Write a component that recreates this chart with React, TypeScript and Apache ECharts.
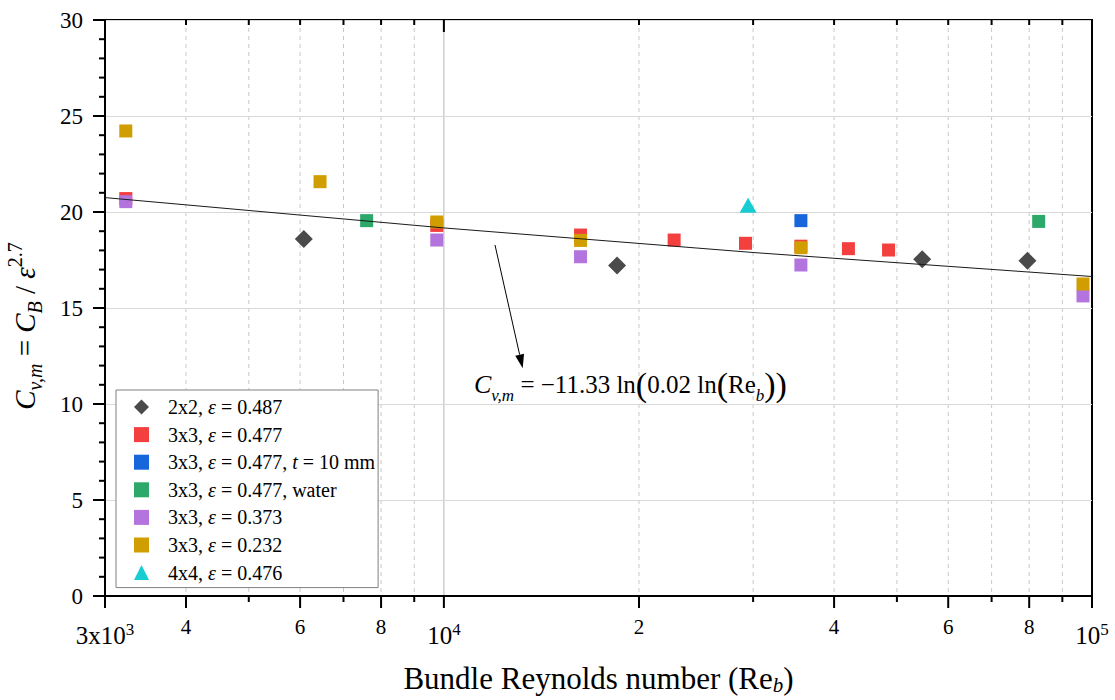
import React, { useEffect, useRef } from "react";
import * as echarts from "echarts";

const SERIF = "'Liberation Serif', 'Times New Roman', serif";

// ---- series definitions ----
const seriesNames = [
  "2x2, ε = 0.487",
  "3x3, ε = 0.477",
  "3x3, ε = 0.477, t = 10 mm",
  "3x3, ε = 0.477, water",
  "3x3, ε = 0.373",
  "3x3, ε = 0.232",
  "4x4, ε = 0.476",
];
const seriesLegendRich = [
  "{sp| }2x2, {i|ε} = 0.487",
  "{sp| }3x3, {i|ε} = 0.477",
  "{sp| }3x3, {i|ε} = 0.477, {i|t} = 10 mm",
  "{sp| }3x3, {i|ε} = 0.477, water",
  "{sp| }3x3, {i|ε} = 0.373",
  "{sp| }3x3, {i|ε} = 0.232",
  "{sp| }4x4, {i|ε} = 0.476",
];
const seriesColors = ["#4a4a4a", "#f43f3f", "#1766dc", "#2ca86a", "#b374de", "#d09e00", "#17cdd1"];
const seriesSymbols = ["diamond", "rect", "rect", "rect", "rect", "rect", "triangle"];

// ---- data (Re_b, C_v,m) ----
const re2x2e487 = [6080, 18500, 54700, 79500];
const cv2x2e487 = [18.6, 17.22, 17.54, 17.46];

const re3x3e477 = [3230, 9750, 16250, 22660, 29200, 35550, 42090, 48540];
const cv3x3e477 = [20.7, 19.3, 18.8, 18.54, 18.37, 18.22, 18.09, 18.02];

const re3x3e477t10 = [35550];
const cv3x3e477t10 = [19.55];

const re3x3e477water = [7600, 82740];
const cv3x3e477water = [19.55, 19.51];

const re3x3e373 = [3230, 9750, 16250, 35550, 96850];
const cv3x3e373 = [20.54, 18.54, 17.67, 17.24, 15.63];

const re3x3e232 = [3230, 6440, 9750, 16250, 35550, 96850];
const cv3x3e232 = [24.22, 21.58, 19.48, 18.52, 18.14, 16.25];

const re4x4e476 = [29470];
const cv4x4e476 = [20.35];

const seriesRe = [re2x2e487, re3x3e477, re3x3e477t10, re3x3e477water, re3x3e373, re3x3e232, re4x4e476];
const seriesCv = [cv2x2e487, cv3x3e477, cv3x3e477t10, cv3x3e477water, cv3x3e373, cv3x3e232, cv4x4e476];

// fitted curve
const fitRe = [3000, 10000, 30000, 100000];
const fitCv = [20.75, 19.17, 17.89, 16.64];

// ---- axis ticks ----
const xMajorTicks = [3000, 4000, 6000, 8000, 10000, 20000, 40000, 60000, 80000, 100000];
const xMajorLabels = ["3x10^3", "4", "6", "8", "10^4", "2", "4", "6", "8", "10^5"];
const xMinorTicks = [5000, 7000, 9000, 30000, 50000, 70000, 90000];
const yMajorTicks = [0, 5, 10, 15, 20, 25, 30];

function labelRich(s: string) {
  if (s.indexOf("^") >= 0) {
    const [b, p] = s.split("^");
    return `{b|${b}}{p|${p}}`;
  }
  return `{m|${s}}`;
}

export default function App() {
  const ref = useRef<HTMLDivElement>(null);
  useEffect(() => {
    if (!ref.current) return;
    const chart = echarts.init(ref.current, undefined, { renderer: "svg" });

    const scatterSeries = seriesNames.map((name, i) => ({
      name,
      type: "scatter",
      symbol: seriesSymbols[i],
      symbolSize: seriesSymbols[i] === "diamond" ? 18 : seriesSymbols[i] === "triangle" ? [17, 15] : 13,
      itemStyle: { color: seriesColors[i], opacity: 1 },
      z: 2 + i * 0.01,
      data: seriesRe[i].map((r, k) => [r, seriesCv[i][k]]),
    }));

    const legendMap: Record<string, string> = {};
    seriesNames.forEach((n, i) => (legendMap[n] = seriesLegendRich[i]));

    chart.setOption({
      animation: false,
      backgroundColor: "#fff",
      grid: {
        left: 105,
        top: 20,
        width: 987,
        height: 576,
        show: true,
        borderColor: "#000",
        borderWidth: 2,
        backgroundColor: "transparent",
        containLabel: false,
        outerBoundsMode: "none",
      },
      xAxis: {
        type: "log",
        logBase: 10,
        min: 3000,
        max: 100000,
        axisLine: { show: true, lineStyle: { color: "#000", width: 2 } },
        axisTick: { show: false },
        axisLabel: { show: false },
        splitLine: { show: false },
        name: "Bundle Reynolds number (Re{s|b})",
        nameLocation: "middle",
        nameGap: 65,
        nameTextStyle: {
          fontFamily: SERIF,
          fontSize: 31,
          color: "#000",
          lineHeight: 34,
          rich: {
            s: { fontFamily: SERIF, fontSize: 21, fontStyle: "italic", color: "#000", verticalAlign: "bottom", lineHeight: 20 },
          },
        },
      },
      yAxis: {
        type: "value",
        min: 0,
        max: 30,
        interval: 5,
        axisLine: { show: true, lineStyle: { color: "#000", width: 2 } },
        axisTick: { show: false },
        minorTick: { show: false },
        axisLabel: { fontFamily: SERIF, fontSize: 23, color: "#000", margin: 22 },
        splitLine: { show: true, lineStyle: { color: "#d9d9d9", width: 1 } },
        name: "{i|C}{s|v,m}{n| = }{i|C}{s|B}{n| / }{i|ε}{p|2.7}{gap| }",
        nameLocation: "middle",
        nameRotate: 90,
        nameGap: 60,
        nameTextStyle: {
          fontFamily: SERIF,
          fontSize: 28,
          color: "#000",
          rich: {
            i: { fontFamily: SERIF, fontSize: 29, fontStyle: "italic", color: "#000", lineHeight: 40 },
            n: { fontFamily: SERIF, fontSize: 29, color: "#000", lineHeight: 40 },
            s: { fontFamily: SERIF, fontSize: 20, fontStyle: "italic", color: "#000", lineHeight: 20, verticalAlign: "bottom" },
            p: { fontFamily: SERIF, fontSize: 20, color: "#000", lineHeight: 20, verticalAlign: "top" },
            gap: { width: 36, fontSize: 20, lineHeight: 20 },
          },
        },
      },
      legend: {
        orient: "vertical",
        left: 116,
        top: 390,
        padding: [7, 3, 5, 18],
        itemGap: 7.6,
        itemWidth: 15,
        itemHeight: 15,
        backgroundColor: "#fff",
        borderColor: "#808080",
        borderWidth: 1,
        data: seriesNames,
        formatter: (name: string) => legendMap[name] || name,
        textStyle: {
          fontFamily: SERIF,
          fontSize: 20,
          color: "#000",
          lineHeight: 20,
          rich: {
            sp: { width: 14, fontSize: 20, lineHeight: 20 },
            i: { fontFamily: SERIF, fontSize: 20, fontStyle: "italic", color: "#000", lineHeight: 20 },
          },
        },
      },
      series: [
        ...scatterSeries,
        {
          name: "fit",
          type: "line",
          data: fitRe.map((r, k) => [r, fitCv[k]]),
          symbol: "none",
          silent: true,
          z: 5,
          lineStyle: { color: "#1a1a1a", width: 1 },
        },
      ],
    });

    // --- axis decorations via library scale ---
    const px = (v: number) => chart.convertToPixel({ xAxisIndex: 0 }, v) as number;
    const py = (v: number) => chart.convertToPixel({ yAxisIndex: 0 }, v) as number;
    const yTop = py(30);
    const yBot = py(0);
    const xLeft = px(3000);

    const els: any[] = [];
    const gridVals = [...xMajorTicks, ...xMinorTicks].filter((v) => v !== 3000 && v !== 100000);
    gridVals.forEach((v) => {
      const x = px(v);
      const solid = v === 10000;
      els.push({
        type: "line",
        silent: true,
        z: -1,
        shape: { x1: x, y1: yTop, x2: x, y2: yBot },
        style: { stroke: solid ? "#b5b5b5" : "#c8c8c8", lineWidth: 1, lineDash: solid ? null : [4, 4] },
      });
    });
    xMajorTicks.forEach((v, i) => {
      const x = px(v);
      els.push({ type: "line", silent: true, z: 10, shape: { x1: x, y1: yBot, x2: x, y2: yBot + 12 }, style: { stroke: "#000", lineWidth: 2 } });
      const isDecade = v === 10000;
      els.push({ type: "line", silent: true, z: 10, shape: { x1: x, y1: yTop, x2: x, y2: yTop + (isDecade ? 12 : 5) }, style: { stroke: "#000", lineWidth: 2 } });
      const lab = xMajorLabels[i];
      const big = lab.indexOf("^") >= 0;
      els.push({
        type: "text",
        silent: true,
        z: 10,
        x,
        y: big ? yBot + 25 : yBot + 20,
        style: {
          text: labelRich(lab),
          align: "center",
          verticalAlign: "top",
          fill: "#000",
          fontFamily: SERIF,
          fontSize: 21,
          rich: {
            b: { fontFamily: SERIF, fontSize: 25, fill: "#000", lineHeight: 28 },
            p: { fontFamily: SERIF, fontSize: 17, fill: "#000", lineHeight: 16, verticalAlign: "top" },
            m: { fontFamily: SERIF, fontSize: 21, fill: "#000", lineHeight: 22 },
          },
        },
      });
    });
    xMinorTicks.forEach((v) => {
      const x = px(v);
      els.push({ type: "line", silent: true, z: 10, shape: { x1: x, y1: yBot, x2: x, y2: yBot + 6 }, style: { stroke: "#000", lineWidth: 2 } });
      els.push({ type: "line", silent: true, z: 10, shape: { x1: x, y1: yTop, x2: x, y2: yTop + 5 }, style: { stroke: "#000", lineWidth: 2 } });
    });
    // y ticks: majors every 5, minors every 1
    for (let v = 0; v <= 30; v++) {
      const y = py(v);
      const major = yMajorTicks.indexOf(v) >= 0;
      els.push({
        type: "line",
        silent: true,
        z: 10,
        shape: { x1: xLeft - (major ? 12 : 6), y1: y, x2: xLeft, y2: y },
        style: { stroke: "#000", lineWidth: 2 },
      });
    }

    // annotation arrow + formula
    const tip = [522.7, 368.3];
    const start = [495, 245];
    const dx = tip[0] - start[0];
    const dy = tip[1] - start[1];
    const len = Math.sqrt(dx * dx + dy * dy);
    const ux = dx / len, uy = dy / len;
    const bx = tip[0] - 14 * ux, by = tip[1] - 14 * uy;
    const hx = -uy * 4.5, hy = ux * 4.5;
    els.push({ type: "line", silent: true, z: 10, shape: { x1: start[0], y1: start[1], x2: bx, y2: by }, style: { stroke: "#000", lineWidth: 1 } });
    els.push({
      type: "polygon",
      silent: true,
      z: 10,
      shape: { points: [[tip[0], tip[1]], [bx + hx, by + hy], [bx - hx, by - hy]] },
      style: { fill: "#000" },
    });
    els.push({
      type: "text",
      silent: true,
      z: 10,
      x: 474,
      y: 384,
      style: {
        text: "{i|C}{s|v,m}{n| = −11.33 ln}{p|(}{n|0.02 ln}{p|(}{n|Re}{s|b}{p|))}",
        align: "left",
        verticalAlign: "middle",
        fill: "#000",
        rich: {
          i: { fontFamily: SERIF, fontSize: 26, fontStyle: "italic", fill: "#000", lineHeight: 40 },
          n: { fontFamily: SERIF, fontSize: 25, fill: "#000", lineHeight: 40 },
          s: { fontFamily: SERIF, fontSize: 17, fontStyle: "italic", fill: "#000", lineHeight: 18, verticalAlign: "bottom" },
          p: { fontFamily: SERIF, fontSize: 34, fill: "#000", lineHeight: 40 },
        },
      },
    });

    chart.setOption({ graphic: { elements: els } });

    return () => chart.dispose();
  }, []);

  return (
    <div
      ref={ref}
      style={{ position: "fixed", left: 0, top: 0, width: 1115, height: 700, background: "#fff" }}
    />
  );
}
